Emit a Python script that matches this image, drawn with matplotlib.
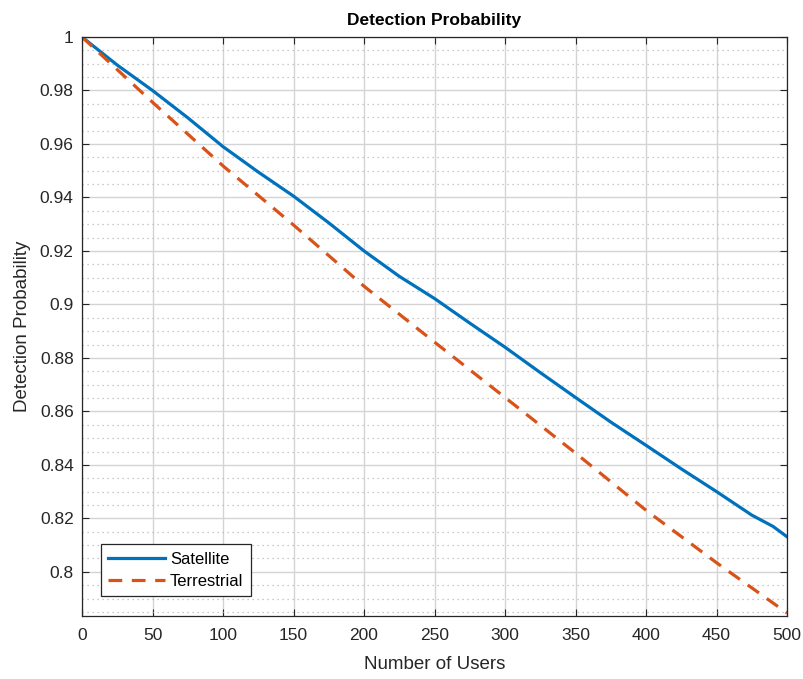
import matplotlib.pyplot as plt
from matplotlib.ticker import MultipleLocator

plt.rcParams['font.family'] = ['Liberation Sans', 'DejaVu Sans']

# number of users and detection probability for each link type
users_sat = [0, 25, 50, 75, 100, 125, 150, 175, 200, 225, 250, 275,
             300, 325, 350, 375, 400, 425, 450, 475, 490, 500]
p_sat = [1.0, 0.9895, 0.980, 0.9698, 0.959, 0.9495, 0.9405, 0.9305,
         0.920, 0.9105, 0.9022, 0.893, 0.884, 0.8745, 0.8652, 0.856,
         0.8473, 0.8385, 0.830, 0.8212, 0.817, 0.8131]

users_ter = [0, 50, 100, 150, 200, 250, 300, 350, 400, 450, 500]
p_ter = [1.0, 0.9756, 0.9518, 0.9297, 0.9068, 0.8859, 0.8652, 0.8444,
         0.823, 0.8034, 0.7846]

fig = plt.figure(figsize=(8.04, 6.79), dpi=100)
ax = fig.add_axes([0.102, 0.0928, 0.877, 0.8527])

ax.plot(users_sat, p_sat, color='#0072BD', lw=2.3, label='Satellite')
ax.plot(users_ter, p_ter, color='#D95319', lw=2.3,
        linestyle=(0, (4.3, 3.0)), label='Terrestrial')

ax.set_xlim(0, 500)
ax.set_ylim(0.7835, 1.0)
ax.xaxis.set_major_locator(MultipleLocator(50))
ax.yaxis.set_minor_locator(MultipleLocator(0.005))
ax.set_yticks([1.0, 0.98, 0.96, 0.94, 0.92, 0.9, 0.88, 0.86, 0.84, 0.82, 0.8])
ax.set_yticklabels(['1', '0.98', '0.96', '0.94', '0.92', '0.9', '0.88',
                    '0.86', '0.84', '0.82', '0.8'])

ax.grid(which='major', color='#d4d4d4', lw=1.0)
ax.grid(which='minor', axis='y', color='#b8b8b8', lw=0.9, linestyle=(0, (1, 3)))
ax.set_axisbelow(True)

ax.tick_params(which='major', direction='in', top=True, right=True,
               length=5, width=0.8, labelsize=12.5, colors='#262626')
ax.tick_params(axis='x', pad=9)
ax.tick_params(axis='y', pad=6)
ax.tick_params(which='minor', length=0)
for s in ax.spines.values():
    s.set_color('#262626')
    s.set_linewidth(0.9)

ax.set_xlabel('Number of Users', fontsize=13.5, color='#262626', labelpad=9)
ax.set_ylabel('Detection Probability', fontsize=13.5, color='#262626', labelpad=6)
ax.set_title('Detection Probability', fontsize=12.5, fontweight='bold', pad=9)

leg = ax.legend(loc='lower left', bbox_to_anchor=(0.015, 0.02), fontsize=12,
                fancybox=False, framealpha=1, edgecolor='#262626',
                handlelength=3.4, borderpad=0.45, labelspacing=0.4,
                handletextpad=0.3)
leg.get_frame().set_linewidth(0.9)

fig.savefig('out.png', dpi=100)
